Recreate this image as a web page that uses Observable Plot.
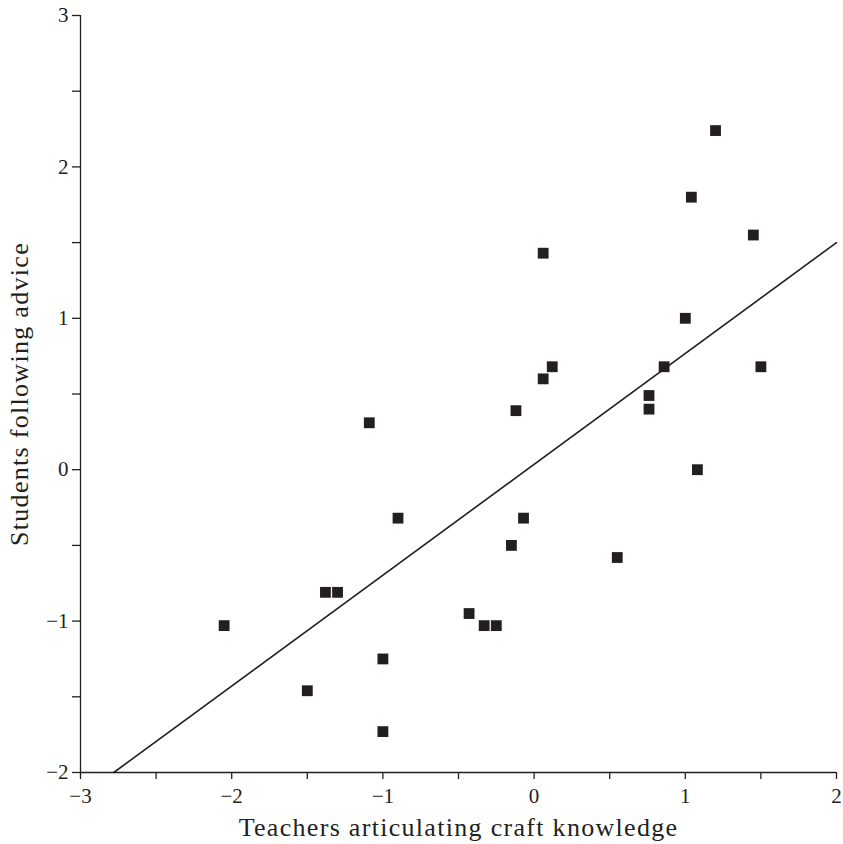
<!DOCTYPE html>
<html>
<head>
<meta charset="utf-8">
<script src="https://cdn.jsdelivr.net/npm/d3@7"></script>
<script src="https://cdn.jsdelivr.net/npm/@observablehq/plot@0.6"></script>
<style>
  html, body { margin: 0; padding: 0; background: #fff; }
</style>
</head>
<body>
<div id="chart"></div>
<script>
// Data
const teachers = [-2.05, -1.50, -1.38, -1.30, -1.09, -1.00, -1.00, -0.90, -0.43, -0.33, -0.25, -0.15, -0.12, -0.07, 0.06, 0.06, 0.12, 0.55, 0.76, 0.76, 0.86, 1.00, 1.08, 1.04, 1.20, 1.45, 1.50];
const students = [-1.03, -1.46, -0.81, -0.81, 0.31, -1.25, -1.73, -0.32, -0.95, -1.03, -1.03, -0.50, 0.39, -0.32, 1.43, 0.60, 0.68, -0.58, 0.49, 0.40, 0.68, 1.00, 0.00, 1.80, 2.24, 1.55, 0.68];
// Fitted line endpoints
const fitX = [-2.78, 2.0];
const fitY = [-2.0, 1.5];
// Axis ticks
const xTicks = [-3, -2.5, -2, -1.5, -1, -0.5, 0, 0.5, 1, 1.5, 2];
const yTicks = [-2, -1.5, -1, -0.5, 0, 0.5, 1, 1.5, 2, 2.5, 3];
const xTitle = "Teachers articulating craft knowledge";
const yTitle = "Students following advice";

const ink = "#231f20";
const points = teachers.map((x, i) => ({x, y: students[i]}));
const fit = fitX.map((x, i) => ({x, y: fitY[i]}));
const fmt = d => Number.isInteger(d) ? (d < 0 ? "\u2212" + (-d) : String(d)) : "";

const chart = Plot.plot({
  width: 843,
  height: 844,
  marginLeft: 80,
  marginRight: 7,
  marginTop: 15,
  marginBottom: 72,
  x: {domain: [-3, 2]},
  y: {domain: [-2, 3]},
  style: {fontFamily: "'Liberation Serif', 'DejaVu Serif', serif", color: ink, background: "#fff"},
  marks: [
    Plot.axisX({ticks: xTicks, tickSize: 7, tickPadding: 9, tickFormat: fmt, fontSize: 21, label: null, stroke: ink, strokeWidth: 1.3}),
    Plot.axisY({ticks: yTicks, tickSize: 8, tickPadding: 4, tickFormat: fmt, fontSize: 21, label: null, stroke: ink, strokeWidth: 1.3}),
    Plot.ruleY([-2], {stroke: ink, strokeWidth: 1.3}),
    Plot.ruleX([-3], {stroke: ink, strokeWidth: 1.3}),
    Plot.line(fit, {x: "x", y: "y", stroke: ink, strokeWidth: 1.6}),
    Plot.dot(points, {x: "x", y: "y", symbol: "square", r: 6.1, fill: ink}),
    Plot.text([xTitle], {text: d => d, frameAnchor: "bottom", lineAnchor: "middle", textAnchor: "middle", dy: 55, fontSize: 26, fill: ink}),
    Plot.text([yTitle], {text: d => d, frameAnchor: "left", lineAnchor: "middle", textAnchor: "middle", dx: -61, rotate: -90, fontSize: 26, fill: ink})
  ]
});
d3.select(chart).selectAll("text")
  .filter(function() { return this.textContent === xTitle || this.textContent === yTitle; })
  .style("letter-spacing", "1.3px");
document.getElementById("chart").appendChild(chart);
</script>
</body>
</html>
